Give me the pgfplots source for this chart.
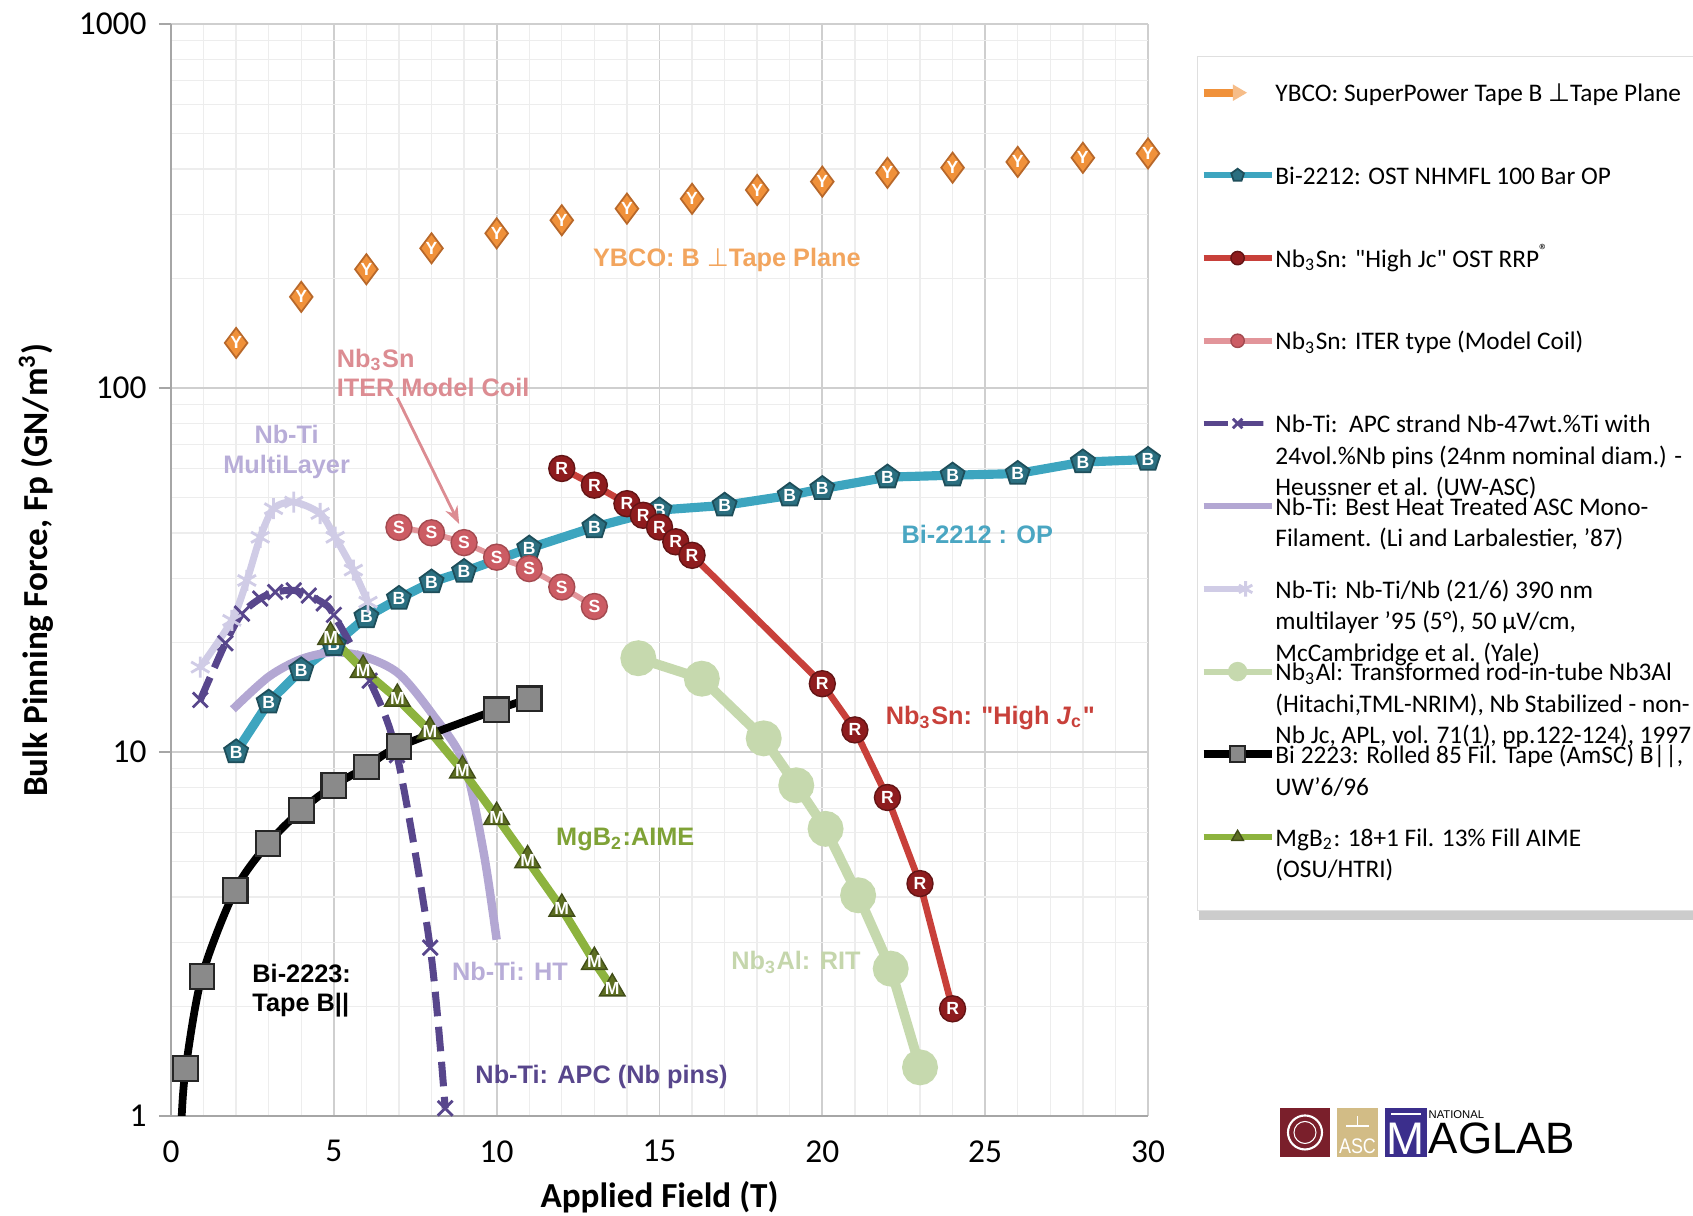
\documentclass[border=0pt]{standalone}
\usepackage{pgfplots}
\pgfplotsset{compat=1.18}
\usepackage{fontspec}
\setmainfont{Carlito}
\newfontfamily\carl{Carlito}
\newfontfamily\arialf{Liberation Sans}
\newfontfamily\dejavu{DejaVu Sans}
\usetikzlibrary{arrows.meta}

\definecolor{ybco}{HTML}{F0913A}
\definecolor{ybcodk}{HTML}{B8682A}
\definecolor{ybcotxt}{HTML}{F2A55E}
\definecolor{teal2212}{HTML}{3DA5BF}
\definecolor{tealdk}{HTML}{2B6F80}
\definecolor{tealtxt}{HTML}{4AA6C2}
\definecolor{redjc}{HTML}{C8403A}
\definecolor{reddk}{HTML}{8E1C1E}
\definecolor{iter}{HTML}{E2959A}
\definecolor{iterdk}{HTML}{CC5C64}
\definecolor{itertxt}{HTML}{DC8C92}
\definecolor{apc}{HTML}{58468C}
\definecolor{ht}{HTML}{B3A7D3}
\definecolor{httxt}{HTML}{B8ADD8}
\definecolor{ml}{HTML}{D0CCE6}
\definecolor{nb3al}{HTML}{C6D9AE}
\definecolor{nb3altxt}{HTML}{C5D6AC}
\definecolor{mgb2}{HTML}{8DB33E}
\definecolor{mgb2dk}{HTML}{5D6E22}
\definecolor{mgtxt}{HTML}{7FA236}
\definecolor{sqgray}{HTML}{8A8A8A}
\definecolor{logored}{HTML}{7A1F2B}
\definecolor{logotan}{HTML}{D2BC86}
\definecolor{logoblue}{HTML}{3B2E8C}

\newcommand{\LE}[1]{\parbox[t]{7cm}{\fontsize{7.2}{9}\selectfont\raggedright #1}}
\newcommand{\AF}{\arialf\bfseries\fontsize{7.2}{8.5}\selectfont}

\pgfplotsset{
  letter/.style={nodes near coords={#1},
    every node near coord/.append style={anchor=center, inner sep=0pt,
      font=\arialf\bfseries\fontsize{5}{5}\selectfont, text=white}},
  myleg/.style={legend image code/.code={\draw[mark repeat=2,mark phase=2,##1, line width=1.7pt, mark size=1.9pt] plot coordinates {(0cm,2.6pt) (0.34cm,2.6pt) (0.68cm,2.6pt)};}},
  ybcoleg/.style={legend image code/.code={\draw[ybco, line width=2.2pt] (0cm,2.6pt) -- (0.3cm,2.6pt); \fill[ybco!60] (0.3cm,0.6pt) -- (0.42cm,2.6pt) -- (0.3cm,4.6pt) -- cycle;}},
  mlleg/.style={legend image code/.code={\draw[ml, line width=1.7pt] (0cm,2.6pt) -- (0.4cm,2.6pt); \draw[ml, line width=0.7pt] plot[mark=asterisk, mark size=2.2pt] coordinates {(0.42cm,2.6pt)};}},
  bleg/.style={legend image code/.code={\draw[black, line width=2.2pt] (0cm,2.6pt) -- (0.68cm,2.6pt); \filldraw[fill=sqgray, draw=black!85, line width=0.5pt] (0.265cm,0.3pt) rectangle (0.415cm,4.9pt);}},
}

\begin{document}
\begin{tikzpicture}[x=1cm,y=1cm]
\useasboundingbox (-1.71,-1.00) rectangle (15.22,11.16);
% shadow under the legend box
\fill[black!20] (10.28,1.96) rectangle (15.4,2.06);
\begin{axis}[
  at={(0,0)}, anchor=south west,
  scale only axis, width=9.77cm, height=10.92cm,
  xmin=0, xmax=30, ymin=1, ymax=1000, ymode=log,
  xtick={0,5,...,30}, minor x tick num=4,
  ytick={1,10,100,1000}, yticklabels={1,10,100,1000},
  minor ytick={2,3,4,5,6,7,8,9,20,30,40,50,60,70,80,90,200,300,400,500,600,700,800,900},
  grid=both,
  major grid style={draw=gray!38, line width=0.5pt},
  minor grid style={draw=gray!14, line width=0.4pt},
  axis x line*=bottom, axis y line*=left,
  axis line style={draw=gray!70, line width=0.8pt},
  xtick style={draw=none},
  ytick style={draw=gray!70, line width=0.8pt},
  tick align=outside,
  major tick length=0.12cm, minor tick length=0pt,
  tick label style={font=\fontsize{9.5}{11}\selectfont},
  /pgf/number format/assume math mode=true,
  xlabel={Applied Field (T)},
  ylabel={Bulk Pinning Force, Fp (GN/m\textsuperscript{3})},
  every axis x label/.style={at={(axis description cs:0.5,-0.0742)}, anchor=center, font=\fontsize{10}{12}\selectfont\bfseries},
  every axis y label/.style={at={(axis description cs:-0.138,0.5)}, rotate=90, anchor=center, font=\fontsize{10}{12}\selectfont\bfseries},
  legend cell align=left,
  legend style={at={(axis description cs:1.0502,0.9707)}, anchor=north west,
    draw=gray!25, fill=white, line width=0.4pt,
    inner xsep=0.02cm, inner ysep=0.135cm, row sep=0pt, column sep=0pt,
    font=\fontsize{7.2}{9}\selectfont,
    cells={anchor=base west},
    nodes={inner sep=0pt, text height=9pt, text depth=14.53pt}},
  myleg,
]

% YBCO
\addplot[only marks, mark=diamond*, mark size=4.3pt, mark options={fill=ybco, draw=ybcodk, line width=0.5pt}, letter={Y}, ybcoleg]
coordinates {(2,133) (4,178) (6,212) (8,242) (10,266) (12,289) (14,311) (16,331) (18,350) (20,369) (22,390) (24,403) (26,418) (28,429) (30,441)};
\addlegendentry{\LE{YBCO: SuperPower Tape B {\dejavu ⊥}Tape Plane}}

% Bi-2212
\addplot[teal2212, line width=2.6pt, mark=pentagon*, mark size=3.6pt, mark options={fill=tealdk, draw=tealdk!70!black, line width=0.5pt}, letter={B}]
coordinates {(2,10.0) (3,13.7) (4,16.8) (5,19.7) (6,23.5) (7,26.4) (8,29.3) (9,31.3) (11,36.3) (13,41.5) (15,46.2) (17,47.6) (19,50.7) (20,52.9) (22,56.9) (24,57.6) (26,58.2) (28,62.6) (30,63.6)};
\addlegendentry{\LE{Bi-2212: OST NHMFL 100 Bar OP}}

% Nb3Sn High Jc
\addplot[redjc, line width=1.9pt, mark=*, mark size=3.7pt, mark options={fill=reddk, draw=reddk!70!black, line width=0.4pt}, letter={R}]
coordinates {(12,60.1) (13,54.1) (14,48.1) (14.5,44.7) (15,41.5) (15.5,37.8) (16,34.7) (20,15.4) (21,11.5) (22,7.5) (23,4.35) (24,1.97)};
\addlegendentry{\LE{Nb\textsubscript{3}Sn: {\carl"}High Jc{\carl"} OST RRP\textsuperscript{®}}}

% Nb3Sn ITER
\addplot[iter, line width=1.6pt, mark=*, mark size=3.7pt, mark options={fill=iterdk, draw=iterdk!80!black, line width=0.4pt}, letter={S}]
coordinates {(7,41.4) (8,40.0) (9,37.6) (10,34.3) (11,31.9) (12,28.4) (13,25.1)};
\addlegendentry{\LE{Nb\textsubscript{3}Sn: ITER type (Model Coil)}}

% Nb-Ti APC
\addplot[apc, line width=2pt, dash pattern=on 7pt off 3pt, smooth, mark=x, mark size=3pt, mark options={solid, line width=0.8pt}]
coordinates {(0.9,13.9) (1.67,19.9) (2.18,24) (2.74,26.4) (3.2,27.5) (3.77,27.8) (4.23,26.9) (4.69,25.6) (5,23.8) (6.1,15.7) (6.94,9.8) (7.96,2.9) (8.42,1.05)};
\addlegendentry{\LE{Nb-Ti:\ \ APC strand Nb-47wt.\%Ti with\\24vol.\%Nb pins (24nm nominal diam.) -\\Heussner et al. (UW-ASC)}}

% Nb-Ti HT
\addplot[ht, line width=2.4pt, smooth, mark=none]
coordinates {(1.9,13.1) (3,16.1) (4,18.0) (5,18.8) (6,18.2) (7,16.4) (8,12.8) (9,9.3) (9.6,5.3) (10,3.05)};
\addlegendentry{\LE{Nb-Ti: Best Heat Treated ASC Mono-\\Filament. (Li and Larbalestier, '87)}}

% Nb-Ti multilayer
\addplot[ml, line width=2pt, smooth, mark=asterisk, mark size=3pt, mark options={line width=0.8pt}, mlleg]
coordinates {(0.9,17.1) (1.87,23) (2.33,29.6) (2.74,38.9) (3.15,46.6) (3.77,48.6) (4.58,45.2) (5.04,38.9) (5.6,31.6) (6.05,25.8)};
\addlegendentry{\LE{Nb-Ti: Nb-Ti/Nb (21/6) 390 nm\\multilayer '95 (5°), 50 µV/cm,\\McCambridge et al. (Yale)}}

% Nb3Al
\addplot[nb3al, line width=2.8pt, mark=*, mark size=3.7pt, mark options={fill=nb3al, draw=nb3al}]
coordinates {(14.35,18.1) (16.3,15.9) (18.2,10.9) (19.2,8.1) (20.1,6.15) (21.1,4.04) (22.1,2.54) (23,1.36)};
\addlegendentry{\LE{Nb\textsubscript{3}Al: Transformed rod-in-tube Nb3Al\\(Hitachi,TML-NRIM), Nb Stabilized - non-\\Nb Jc, APL, vol. 71(1), pp.122-124), 1997}}

% Bi-2223
\addplot[black, line width=2.2pt, smooth, mark=square*, mark size=3.5pt, mark options={fill=sqgray, draw=black!85, line width=0.6pt}, mark indices={2,...,11}, bleg]
coordinates {(0.33,1.0) (0.45,1.35) (0.95,2.42) (1.97,4.17) (2.98,5.6) (4.0,6.92) (5.0,8.09) (6.0,9.09) (7.0,10.35) (10,13.06) (11,14.0)};
\addlegendentry{\LE{Bi 2223: Rolled 85 Fil. Tape (AmSC) B||,\\UW'6/96}}

% MgB2
\addplot[mgb2, line width=2.4pt, mark=triangle*, mark size=4.2pt, mark options={fill=mgb2dk, draw=mgb2dk!70!black, line width=0.4pt}, letter={M}]
coordinates {(4.9,20.7) (5.9,16.8) (6.95,14.0) (7.95,11.4) (8.95,8.9) (10,6.63) (10.95,5.04) (12,3.71) (13,2.65) (13.55,2.24)};
\addlegendentry{\LE{MgB\textsubscript{2}: 18+1 Fil. 13\% Fill AIME\\(OSU/HTRI)}}

% annotations
\node[font=\AF, text=ybcotxt] at (axis cs:17.07,225) {YBCO: B {\dejavu\mdseries ⊥}Tape Plane};
\node[font=\AF, text=itertxt, anchor=west, align=left] at (axis cs:4.71,110) {Nb\textsubscript{3}Sn\\ITER Model Coil};
\draw[itertxt, line width=0.8pt, -{Stealth[length=5pt]}] (axis cs:6.95,94) -- (axis cs:8.85,42.3);
\node[font=\AF, text=httxt, align=center] at (axis cs:3.55,66.8) {Nb-Ti\\MultiLayer};
\node[font=\AF, text=tealtxt] at (axis cs:24.76,39.5) {Bi-2212 : OP};
\node[font=\AF, text=redjc] at (axis cs:25.16,12.4) {Nb\textsubscript{3}Sn: "High \textit{J}\textsubscript{c}"};
\node[font=\AF, text=mgtxt] at (axis cs:13.95,5.76) {MgB\textsubscript{2}:AIME};
\node[font=\AF, text=nb3altxt] at (axis cs:19.19,2.64) {Nb\textsubscript{3}Al: RIT};
\node[font=\AF, text=httxt] at (axis cs:10.41,2.5) {Nb-Ti: HT};
\node[font=\AF, text=black, anchor=west, align=left] at (axis cs:2.12,2.21) {Bi-2223:\\Tape B||};
\node[font=\AF, text=apc] at (axis cs:13.22,1.28) {Nb-Ti: APC (Nb pins)};
\end{axis}

% logo
\fill[logored] (11.09,-0.41) rectangle (11.59,0.08);
\draw[white, line width=0.6pt] (11.34,-0.165) circle (0.17);
\draw[white, line width=0.3pt] (11.34,-0.165) circle (0.11);
\fill[logotan] (11.66,-0.41) rectangle (12.07,0.08);
\node[font=\arialf\fontsize{6}{6}\selectfont, text=white, inner sep=0pt, anchor=south, xscale=0.85] at (11.865,-0.38) {ASC};
\draw[white, line width=0.4pt] (11.865,-0.1) -- (11.865,0.0);
\draw[white, line width=0.4pt] (11.75,-0.1) -- (11.98,-0.1);
\fill[logoblue] (12.14,-0.41) rectangle (12.56,0.08);
\node[font=\arialf\fontsize{13}{13}\selectfont, text=white, inner sep=0pt, anchor=south] at (12.35,-0.39) {M};
\draw[white, line width=0.4pt] (12.2,0.02) -- (12.5,0.02);
\node[font=\arialf\fontsize{3.2}{3.2}\selectfont, inner sep=0pt, anchor=south west] at (12.57,-0.03) {NATIONAL};
\node[font=\arialf\fontsize{12.5}{12.5}\selectfont, inner sep=0pt, anchor=south west] at (12.57,-0.39) {AGLAB};
\end{tikzpicture}
\end{document}
